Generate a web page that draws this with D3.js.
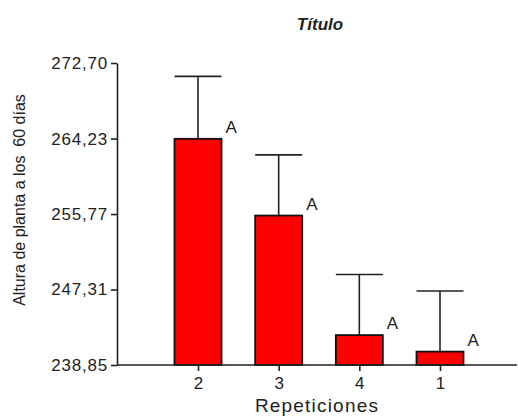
<!DOCTYPE html>
<html lang="es">
<head>
  <meta charset="UTF-8">
  <title>Título</title>
  <script src="https://d3js.org/d3.v7.min.js"></script>
  <style>
    body {
      margin: 0;
      padding: 0;
      background: #fff;
      font-family: "Liberation Sans", Arial, sans-serif;
    }
    svg text { fill: #222; }
  </style>
</head>
<body>
  <svg id="chart" width="518" height="417"></svg>

  <script>
    // datos
    const repeticiones = ["2", "3", "4", "1"];
    const medias = [264.2, 255.6, 242.2, 240.35];
    const errores = [7.0, 6.8, 6.8, 6.8];
    const letras = ["A", "A", "A", "A"];
    const yTicks = [238.85, 247.31, 255.77, 264.23, 272.70];

    const svg = d3.select("#chart");

    const x = d3.scalePoint()
      .domain(repeticiones)
      .range([198, 440]);

    const y = d3.scaleLinear()
      .domain([238.85, 272.70])
      .range([365, 63]);

    const barW = 47;
    const fmt = v => d3.format(".2f")(v).replace(".", ",");

    const rows = repeticiones.map((r, i) => ({
      rep: r, media: medias[i], err: errores[i], letra: letras[i]
    }));

    // error bars (solo hacia arriba)
    const eb = svg.append("g")
      .attr("stroke", "#222")
      .attr("stroke-width", 1.6);

    eb.selectAll("line.v")
      .data(rows)
      .enter()
      .append("line")
      .attr("class", "v")
      .attr("x1", d => x(d.rep))
      .attr("x2", d => x(d.rep))
      .attr("y1", d => y(d.media))
      .attr("y2", d => y(d.media + d.err));

    eb.selectAll("line.cap")
      .data(rows)
      .enter()
      .append("line")
      .attr("class", "cap")
      .attr("x1", d => x(d.rep) - barW / 2)
      .attr("x2", d => x(d.rep) + barW / 2)
      .attr("y1", d => y(d.media + d.err))
      .attr("y2", d => y(d.media + d.err));

    // barras
    svg.append("g")
      .selectAll("rect")
      .data(rows)
      .enter()
      .append("rect")
      .attr("x", d => x(d.rep) - barW / 2)
      .attr("y", d => y(d.media))
      .attr("width", barW)
      .attr("height", d => y(238.85) - y(d.media))
      .attr("fill", "#ff0000")
      .attr("stroke", "#111")
      .attr("stroke-width", 1.8);

    // letras
    svg.append("g")
      .selectAll("text")
      .data(rows)
      .enter()
      .append("text")
      .attr("x", d => x(d.rep) + barW / 2 + 4)
      .attr("y", d => y(d.media) - 6)
      .attr("font-size", 17)
      .attr("letter-spacing", 1)
      .text(d => d.letra);

    // eje y
    const yAxis = d3.axisLeft(y)
      .tickValues(yTicks)
      .tickFormat(fmt)
      .tickSize(6)
      .tickSizeOuter(0)
      .tickPadding(3);

    svg.append("g")
      .attr("transform", "translate(117,0)")
      .call(yAxis)
      .call(g => g.select(".domain").attr("stroke", "#222").attr("stroke-width", 1.6))
      .call(g => g.selectAll(".tick line").attr("stroke", "#222").attr("stroke-width", 1.6))
      .call(g => g.selectAll("text")
        .attr("font-size", 17)
        .attr("letter-spacing", 0.8)
        .attr("font-family", "'Liberation Sans', Arial, sans-serif")
        .attr("fill", "#222"));

    // eje x
    const xAxis = d3.axisBottom(x)
      .tickSize(6)
      .tickSizeOuter(0)
      .tickPadding(6);

    svg.append("g")
      .attr("transform", "translate(0,365)")
      .call(xAxis)
      .call(g => g.select(".domain").remove())
      .call(g => g.selectAll(".tick line").attr("stroke", "#222").attr("stroke-width", 1.6))
      .call(g => g.selectAll("text")
        .attr("font-size", 17)
        .attr("font-family", "'Liberation Sans', Arial, sans-serif")
        .attr("fill", "#222"));

    svg.append("line")
      .attr("x1", 117)
      .attr("x2", 517)
      .attr("y1", 365)
      .attr("y2", 365)
      .attr("stroke", "#222")
      .attr("stroke-width", 1.6);

    // titulos
    svg.append("text")
      .attr("x", 320)
      .attr("y", 30)
      .attr("text-anchor", "middle")
      .attr("font-size", 17)
      .attr("font-weight", "bold")
      .attr("font-style", "italic")
      .text("Título");

    svg.append("text")
      .attr("x", 317)
      .attr("y", 412)
      .attr("text-anchor", "middle")
      .attr("font-size", 19)
      .attr("letter-spacing", 1.2)
      .text("Repeticiones");

    svg.append("text")
      .attr("transform", "translate(25,200) rotate(-90)")
      .attr("text-anchor", "middle")
      .attr("font-size", 16)
      .style("white-space", "pre")
      .text("Altura de planta a los  60 días");
  </script>
</body>
</html>
